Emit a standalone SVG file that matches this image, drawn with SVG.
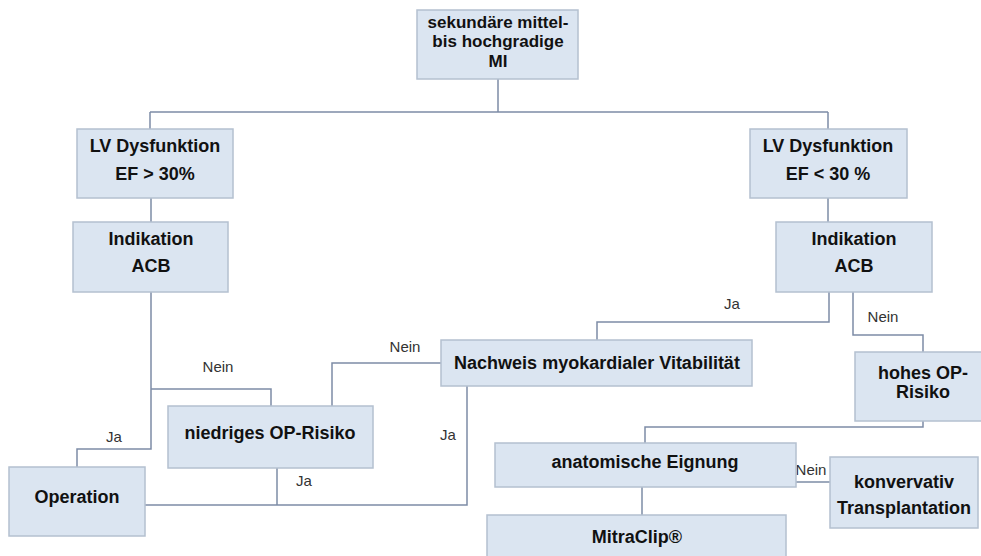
<svg xmlns="http://www.w3.org/2000/svg" width="981" height="556" viewBox="0 0 981 556">
<style>
.box{fill:#dbe5f1;stroke:#b4c0cf;stroke-width:1.5}
.t{font-family:"Liberation Sans",Arial,sans-serif;font-weight:bold;font-size:18px;fill:#111;text-anchor:middle}
.s{font-size:17px}
.l{font-family:"Liberation Sans",Arial,sans-serif;font-size:15px;fill:#333;text-anchor:middle}
.c{fill:none;stroke:#7d8ca6;stroke-width:1.5}
</style>
<rect width="981" height="556" fill="#fff"/>
<g id="connectors">
<path class="c" d="M498 79V112M150 112H828M150 112V129M828 112V129"/>
<path class="c" d="M151 198V222"/>
<path class="c" d="M828 198V222"/>
<path class="c" d="M151 292V449H77V467"/>
<path class="c" d="M151 389H271V406"/>
<path class="c" d="M332 406V363H441"/>
<path class="c" d="M829 292V322H597V340"/>
<path class="c" d="M853 292V335H923V352"/>
<path class="c" d="M923 421V427H645V443"/>
<path class="c" d="M796 482H830"/>
<path class="c" d="M642 487V515"/>
<path class="c" d="M145 505H467V386"/>
<path class="c" d="M277 468V505"/>
<text class="l" x="218" y="372">Nein</text>
<text class="l" x="114" y="442">Ja</text>
<text class="l" x="405" y="352">Nein</text>
<text class="l" x="448" y="440">Ja</text>
<text class="l" x="304" y="486">Ja</text>
<text class="l" x="732" y="309">Ja</text>
<text class="l" x="883" y="322">Nein</text>
<text class="l" x="811" y="475">Nein</text>
</g>
<g id="n-top"><rect class="box" x="417" y="10" width="161" height="69"/>
<text class="t s" x="498" y="27.5">sekundäre mittel-</text><text class="t s" x="498" y="47">bis hochgradige</text><text class="t s" x="498" y="66.5">MI</text></g>
<g id="n-lv-left"><rect class="box" x="77" y="129" width="156" height="69"/>
<text class="t" x="155" y="152">LV Dysfunktion</text><text class="t" x="155" y="180">EF &gt; 30%</text></g>
<g id="n-lv-right"><rect class="box" x="750" y="129" width="157" height="69"/>
<text class="t" x="828" y="152">LV Dysfunktion</text><text class="t" x="828" y="180">EF &lt; 30 %</text></g>
<g id="n-ind-left"><rect class="box" x="73" y="222" width="155" height="70"/>
<text class="t" x="151" y="245">Indikation</text><text class="t" x="151" y="272">ACB</text></g>
<g id="n-ind-right"><rect class="box" x="776" y="222" width="156" height="70"/>
<text class="t" x="854" y="245">Indikation</text><text class="t" x="854" y="272">ACB</text></g>
<g id="n-nachweis"><rect class="box" x="441" y="340" width="311" height="46"/>
<text class="t" x="597" y="369">Nachweis myokardialer Vitabilität</text></g>
<g id="n-hohes"><rect class="box" x="855" y="352" width="128" height="69"/>
<text class="t" x="923" y="379">hohes OP-</text><text class="t" x="923" y="398">Risiko</text></g>
<g id="n-niedriges"><rect class="box" x="168" y="406" width="205" height="62"/>
<text class="t" x="270" y="439">niedriges OP-Risiko</text></g>
<g id="n-operation"><rect class="box" x="9" y="467" width="136" height="69"/>
<text class="t" x="77" y="503">Operation</text></g>
<g id="n-anatomische"><rect class="box" x="495" y="443" width="301" height="44"/>
<text class="t" x="645" y="468">anatomische Eignung</text></g>
<g id="n-konservativ"><rect class="box" x="830" y="457" width="148" height="71"/>
<text class="t" x="904" y="488">konvervativ</text><text class="t" x="904" y="514">Transplantation</text></g>
<g id="n-mitraclip"><rect class="box" x="487" y="515" width="299" height="45"/>
<text class="t" x="637" y="543">MitraClip®</text></g>
</svg>
